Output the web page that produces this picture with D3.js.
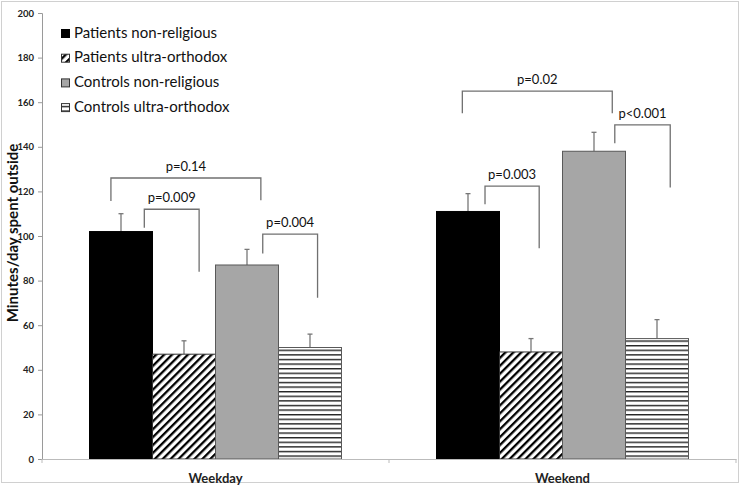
<!DOCTYPE html>
<html><head><meta charset="utf-8">
<script src="https://cdn.jsdelivr.net/npm/d3@7/dist/d3.min.js"></script>
<style>body{margin:0;background:#fff}svg{display:block}text{font-family:Lato,"Open Sans",sans-serif}</style>
</head><body><svg id="c" width="741" height="485"></svg>
<script>
const categories = ["Weekday", "Weekend"];
const seriesNames = ["Patients non-religious", "Patients ultra-orthodox", "Controls non-religious", "Controls ultra-orthodox"];
const patientsNonReligious = [102, 111];
const patientsUltraOrthodox = [47, 48];
const controlsNonReligious = [87, 138];
const controlsUltraOrthodox = [50, 54];
const errPatientsNonReligious = [8, 8];
const errPatientsUltraOrthodox = [6, 6];
const errControlsNonReligious = [7, 8.5];
const errControlsUltraOrthodox = [6, 8.5];
const yTicks = [0, 20, 40, 60, 80, 100, 120, 140, 160, 180, 200];
// significance brackets: category, left/right position in bar units, top level, left/right leg ends
const bracketLabels = ["p=0.14", "p=0.009", "p=0.004", "p=0.02", "p=0.003", "p<0.001"];
const bracketCategory = [0, 0, 0, 1, 1, 1];
const bracketX1 = [0.34, 0.87, 2.75, 0.41, 0.77, 2.83];
const bracketX2 = [2.72, 1.74, 3.62, 2.79, 1.63, 3.71];
const bracketTop = [126, 112, 100.8, 165, 122.4, 149.8];
const bracketLeftEnd = [115.7, 103.7, 92.2, 155, 114.2, 141.6];
const bracketRightEnd = [116, 84, 72.3, 155, 94.5, 121.8];

const values = [patientsNonReligious, patientsUltraOrthodox, controlsNonReligious, controlsUltraOrthodox];
const errs = [errPatientsNonReligious, errPatientsUltraOrthodox, errControlsNonReligious, errControlsUltraOrthodox];

const svg = d3.select("#c");
const defs = svg.append("defs");
const diag = defs.append("pattern").attr("id","diag").attr("patternUnits","userSpaceOnUse")
  .attr("width",5.6).attr("height",5.6).attr("patternTransform","rotate(45)");
diag.append("rect").attr("width",5.6).attr("height",5.6).attr("fill","#fff");
diag.append("rect").attr("width",2.3).attr("height",5.6).attr("fill","#000");
const hor = defs.append("pattern").attr("id","hor").attr("patternUnits","userSpaceOnUse")
  .attr("width",6).attr("height",4.6);
hor.append("rect").attr("width",6).attr("height",4.6).attr("fill","#fff");
hor.append("rect").attr("y",0).attr("width",6).attr("height",1.4).attr("fill","#222");

const fills = ["#000", "url(#diag)", "#a6a6a6", "url(#hor)"];
const strokes = ["#000", "#333", "#595959", "#595959"];

// outer border
svg.append("rect").attr("x",1.5).attr("y",1.5).attr("width",737).attr("height",481)
  .attr("fill","none").attr("stroke","#d0d0d0").attr("stroke-width",1);

const mLeft = 42, mRight = 736, mTop = 13, mBottom = 459;
const y = d3.scaleLinear().domain([0,200]).range([mBottom, mTop]);
const x0 = d3.scaleBand().domain(categories).range([mLeft, mRight]).paddingInner(0).paddingOuter(0);
const innerPad = (x0.bandwidth() - 252) / 2;
const x1 = d3.scaleBand().domain(d3.range(4)).range([innerPad, innerPad + 252]).padding(0);
const barPos = d3.scaleLinear().domain([0,4]).range([innerPad, innerPad + 252]);

// y axis
const yAxis = svg.append("g").attr("transform",`translate(${mLeft},0)`)
  .call(d3.axisLeft(y).tickValues(yTicks).tickSize(4).tickPadding(4));
yAxis.select(".domain").attr("stroke","#9a9a9a");
yAxis.selectAll(".tick line").attr("stroke","#9a9a9a");
yAxis.selectAll(".tick text").attr("font-size","9.5px").attr("font-weight","bold").attr("fill","#222")
  .attr("font-family","Lato, sans-serif");

// bars
categories.forEach((c, ci) => {
  const g = svg.append("g").attr("transform",`translate(${x0(c)},0)`);
  values.forEach((vals, si) => {
    const v = vals[ci], e = errs[si][ci];
    const cx = x1(si) + x1.bandwidth()/2;
    g.append("line").attr("x1",cx).attr("x2",cx).attr("y1",y(v)).attr("y2",y(v+e))
      .attr("stroke","#777").attr("stroke-width",1.3);
    g.append("line").attr("x1",cx-2.5).attr("x2",cx+2.5).attr("y1",y(v+e)).attr("y2",y(v+e))
      .attr("stroke","#777").attr("stroke-width",1.3);
    g.append("rect").attr("x",x1(si)).attr("y",y(v)).attr("width",x1.bandwidth()).attr("height",y(0)-y(v))
      .attr("fill",fills[si]).attr("stroke",strokes[si]).attr("stroke-width",1);
  });
});

// x axis
const xAxis = svg.append("g").attr("transform",`translate(0,${mBottom})`)
  .call(d3.axisBottom(x0).tickSize(0).tickPadding(12));
xAxis.select(".domain").attr("stroke","#bbb");
xAxis.selectAll(".tick text").attr("font-size","13px").attr("font-weight","bold").attr("fill","#222")
  .attr("dy","0.9em").attr("font-family","Lato, sans-serif");
[mLeft, x0("Weekend"), mRight].forEach(px => {
  svg.append("line").attr("x1",px).attr("x2",px).attr("y1",mBottom).attr("y2",mBottom+4).attr("stroke","#bbb");
});

// brackets
bracketLabels.forEach((lab, i) => {
  const bx = x0(categories[bracketCategory[i]]);
  const xa = bx + barPos(bracketX1[i]), xb = bx + barPos(bracketX2[i]);
  const path = d3.path();
  path.moveTo(xa, y(bracketLeftEnd[i]));
  path.lineTo(xa, y(bracketTop[i]));
  path.lineTo(xb, y(bracketTop[i]));
  path.lineTo(xb, y(bracketRightEnd[i]));
  svg.append("path").attr("d",path.toString()).attr("fill","none").attr("stroke","#707070").attr("stroke-width",1.3);
  svg.append("text").attr("x",(xa+xb)/2).attr("y",y(bracketTop[i]) - 7).attr("text-anchor","middle")
    .attr("font-size","13px").attr("fill","#111").text(lab);
});

// legend
const legFills = ["#000", "url(#diag)", "#a6a6a6", "url(#hor)"];
seriesNames.forEach((n, i) => {
  const ly = 29 + i*24.7;
  svg.append("rect").attr("x",61.5).attr("y",ly+0.5).attr("width",8).attr("height",8)
    .attr("fill",legFills[i]).attr("stroke",i===0?"#000":"#333").attr("stroke-width",1);
  svg.append("text").attr("x",74).attr("y",ly+8.5).attr("font-size","15px").attr("fill","#111").text(n);
});

// y title
svg.append("text").attr("transform","translate(18,233) rotate(-90)").attr("text-anchor","middle")
  .attr("font-size","15px").attr("font-weight","bold").attr("fill","#111").text("Minutes/day spent outside");
</script></body></html>
